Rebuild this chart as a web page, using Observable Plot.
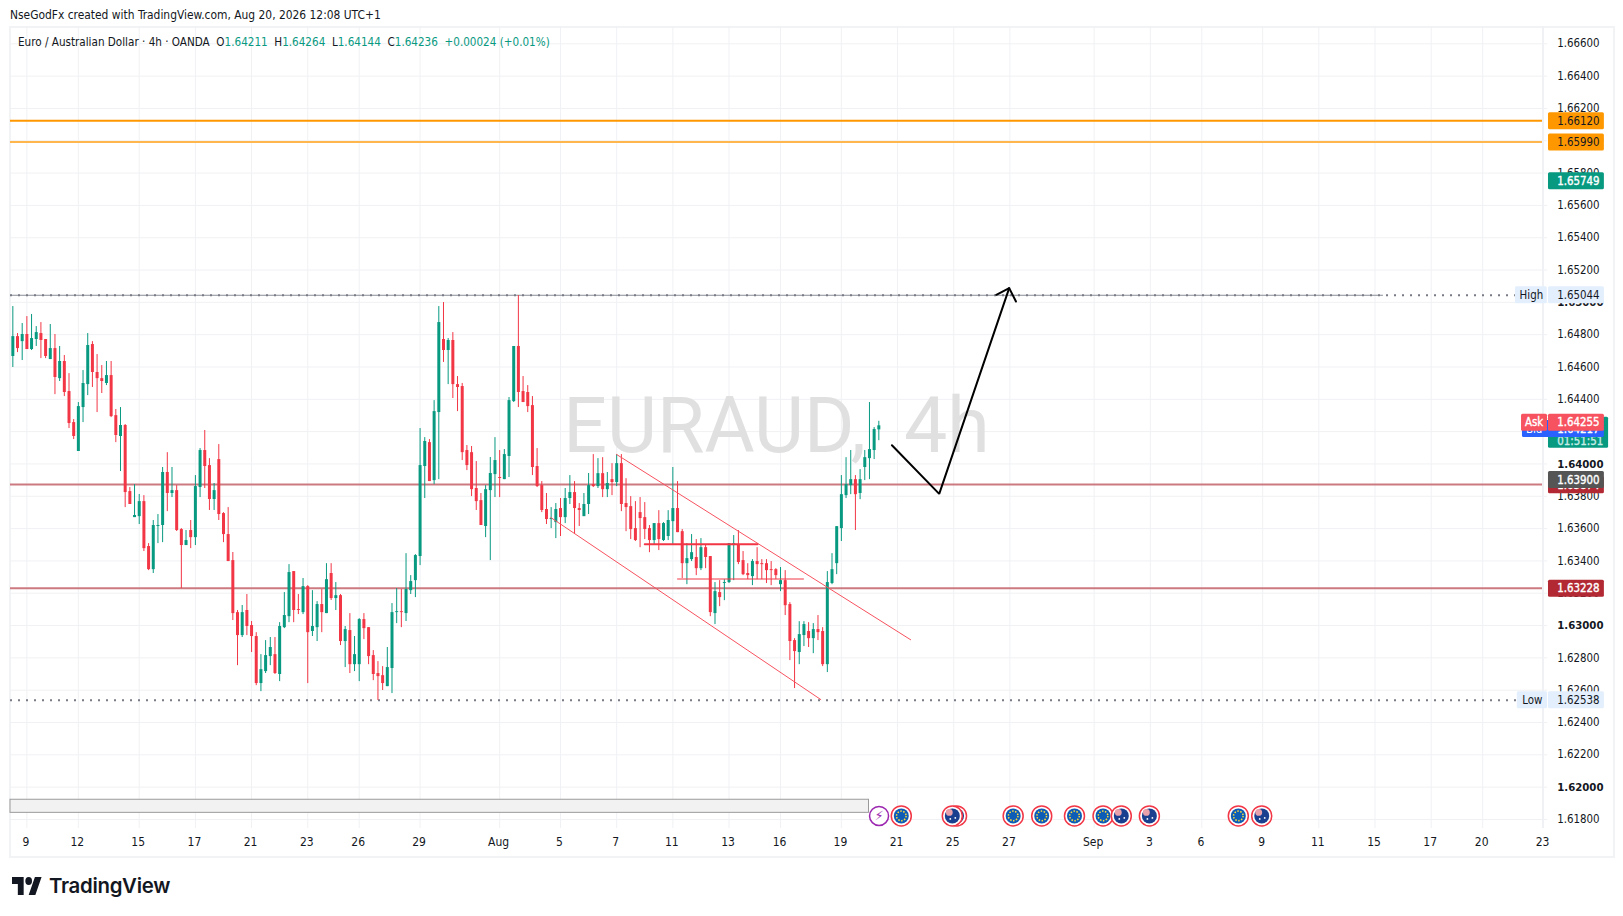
<!DOCTYPE html>
<html><head><meta charset="utf-8">
<script src="https://cdn.jsdelivr.net/npm/d3@7"></script>
<script src="https://cdn.jsdelivr.net/npm/@observablehq/plot@0.6"></script>
<style>
html,body{margin:0;padding:0;background:#fff;width:1623px;height:916px;overflow:hidden}
#wrap{position:relative;width:1623px;height:916px}
#border{position:absolute;left:9px;top:26px;width:1602px;height:828px;border:2px solid #f2f3f5}
#chart{position:absolute;left:0;top:0}
.t{position:absolute;white-space:nowrap;font-family:"DejaVu Sans Condensed","DejaVu Sans";color:#131722}
.g{color:#089981}
</style></head><body>
<div id="wrap">
<div id="border"></div>
<div id="chart"></div>
<div class="t" style="left:10px;top:8px;font-size:11.9px">NseGodFx created with TradingView.com, Aug 20, 2026 12:08 UTC+1</div>
<div class="t" style="left:18px;top:35px;font-size:11.6px">Euro / Australian Dollar · 4h · OANDA&nbsp; O<span class="g">1.64211</span>&nbsp; H<span class="g">1.64264</span>&nbsp; L<span class="g">1.64144</span>&nbsp; C<span class="g">1.64236</span>&nbsp; <span class="g">+0.00024 (+0.01%)</span></div>
<svg style="position:absolute;left:12px;top:877px" width="30" height="18" viewBox="0 4 36 18" preserveAspectRatio="none"><path fill="#131722" d="M14 22H7V11H0V4h14v18zM28 22h-8l7.5-18h8L28 22z"/><circle fill="#131722" cx="20" cy="8" r="4"/></svg>
<div class="t" style="left:49px;top:873px;font-family:Inter;font-weight:600;font-size:20.4px;letter-spacing:-.3px">TradingView</div>
</div>
<script>
// Candle values, in 1e-5 price units
const opens=[164665,164788,164757,164801,164708,164770,164807,164770,164646,164714,
164528,164634,164448,164256,164077,164349,164491,164739,164566,164528,
164498,164547,164299,164170,164238,163829,163668,163674,163767,163489,
163346,163613,163619,163947,163817,163835,163594,163495,163588,163544,
163854,164083,163990,163780,164027,163693,163563,163402,163080,162938,
163093,163000,162932,162641,162715,162808,162820,162697,162987,163055,
163334,163099,163080,163241,162963,162987,163130,163074,163322,163167,
163185,162901,162969,162758,162758,163037,162987,162814,162703,162690,
162622,162734,163080,163086,163074,163216,163278,163427,163984,164132,
163897,164318,164770,164702,164764,164491,164479,164083,164070,163848,
163773,163613,163835,163934,163916,163903,164046,164386,164727,164448,
164442,164361,163984,163866,163718,163656,163637,163724,163668,163786,
163823,163724,163674,163749,163872,163860,163940,163841,163903,163885,
164002,163755,163736,163600,163699,163668,163600,163526,163631,163526,
163551,163643,163724,163581,163383,163408,163421,163352,163482,163427,
163074,163204,163260,163266,163495,163501,163402,163322,163303,163396,
163383,163383,163346,163346,163253,163278,163130,162907,162833,162938,
162963,162919,162975,162963,162758,163260,163383,163600,163804,163866,
163903,163817,163978,164033,164083,164211];
const highs=[164974,164807,164869,164912,164925,164850,164875,164770,164863,164801,
164727,164671,164559,164275,164380,164578,164807,164757,164677,164609,
164634,164634,164337,164349,164244,163854,163872,163811,163804,163507,
163650,163687,163978,164070,163978,163866,163600,163588,163650,163928,
164095,164207,164033,163879,164120,163699,163730,163452,163093,163124,
163192,163025,162956,162820,162907,162926,162926,163018,163204,163377,
163334,163192,163291,163247,163216,163148,163223,163383,163383,163266,
163192,162994,163074,162932,163043,163074,162987,162845,162777,162746,
162864,163136,163229,163223,163445,163309,163439,164219,164163,164151,
164392,164974,164999,164776,164813,164541,164498,164114,164108,164015,
163817,163866,164040,164163,164083,164089,164411,164727,165042,164541,
164485,164417,164095,163891,163817,163730,163755,163786,163848,163928,
163891,163755,163817,163941,164058,164033,164039,163947,164002,164058,
164058,163909,163798,163767,163792,163761,163619,163631,163711,163637,
163711,163978,163891,163594,163507,163563,163532,163538,163501,163427,
163266,163278,163284,163507,163557,163588,163458,163383,163408,163482,
163408,163408,163396,163352,163359,163340,163142,162919,163024,163024,
163018,163012,163062,162987,163334,163445,163612,163928,164039,164083,
163928,163965,164083,164380,164225,164264];
const lows=[164597,164689,164640,164708,164702,164727,164652,164652,164646,164429,
164510,164417,164219,164151,164077,164256,164423,164473,164318,164436,
164485,164287,164132,163953,163730,163749,163668,163625,163458,163340,
163322,163507,163513,163705,163792,163582,163229,163495,163476,163495,
163792,163848,163712,163712,163650,163513,163396,163031,162752,162926,
162938,162833,162628,162591,162703,162752,162697,162653,162981,163018,
163018,163068,163068,162641,162932,162901,162956,163074,163155,163093,
162876,162740,162703,162715,162653,162913,162758,162659,162536,162598,
162622,162579,163012,162987,163025,163192,163173,163371,163786,163891,
163872,163903,164628,164491,164405,164324,164021,163959,163798,163712,
163619,163544,163402,163792,163792,163903,163916,164380,164349,164380,
164318,163928,163854,163699,163625,163600,163538,163551,163631,163749,
163563,163613,163674,163687,163854,163848,163792,163792,163804,163860,
163705,163581,163532,163520,163482,163532,163451,163501,163464,163520,
163526,163495,163575,163291,163253,163396,163309,163340,163352,163055,
163006,163117,163154,163260,163278,163377,163309,163284,163247,163284,
163284,163260,163247,163284,163210,163062,162783,162610,162758,162870,
162864,162826,162907,162746,162709,163253,163315,163520,163786,163810,
163588,163779,163897,163903,164027,164144];
const closes=[164788,164714,164801,164708,164776,164813,164764,164665,164714,164535,
164634,164442,164250,164170,164355,164498,164733,164566,164528,164510,
164547,164293,164176,164238,163823,163749,163681,163767,163476,163346,
163619,163619,163947,163817,163835,163588,163495,163526,163544,163860,
164083,163984,163780,163835,163687,163563,163396,163074,162938,163080,
162994,162932,162641,162727,162814,162864,162703,162994,163062,163328,
163093,163093,163241,162956,162994,163130,163080,163284,163167,163185,
162901,162975,162758,162820,163037,162981,162808,162697,162684,162641,
162740,163080,163086,163080,163223,163272,163433,163990,164139,163891,
164324,164875,164702,164764,164491,164473,164070,163990,163841,163767,
163619,163841,163941,164021,163910,164058,164392,164727,164442,164380,
164355,163978,163860,163712,163656,163662,163718,163668,163786,163823,
163724,163712,163749,163866,163860,163940,163841,163879,163885,164002,
163749,163730,163594,163526,163662,163594,163526,163631,163532,163631,
163650,163724,163575,163383,163414,163451,163352,163482,163421,163080,
163210,163173,163266,163507,163507,163390,163315,163309,163396,163377,
163377,163340,163340,163309,163278,163123,162901,162839,162944,163006,
162919,162975,162956,162758,163266,163346,163612,163810,163872,163903,
163810,163903,164039,164089,164213,164236];

const timeTickBars=[3,14,27,39,51,63,74,87,104,117,129,141,153,164,177,189,201,213,231,243,254,267,279,291,303,314,327];
const timeTickLabels=["9","12","15","17","21","23","26","29","Aug","5","7","11","13","16","19","21","25","27","Sep","3","6","9","11","15","17","20","23"];
const priceTicks=[1.618,1.62,1.622,1.624,1.626,1.628,1.63,1.632,1.634,1.636,1.638,1.64,1.642,1.644,1.646,1.648,1.65,1.652,1.654,1.656,1.658,1.66,1.662,1.664,1.666];
const levelOrangeA=1.6612, levelOrangeB=1.6599, levelRedA=1.6387, levelRedB=1.63228, levelHigh=1.65044, levelLow=1.62538;
const channelUpper=[[128.96,1.64059],[191.8,1.62912]];
const channelLower=[[114.9,1.63669],[172.6,1.62542]];
const boxThick=[[135,1.63503],[159.1,1.63503]];
const boxThin=[[142,1.63288],[168.9,1.63288]];
const arrowPath=[[187.8,1.64116],[197.9,1.63815],[212.85,1.65088]];
const arrowHead=[[210.1,1.65047],[212.85,1.65088],[214.3,1.65005]];
const eventBars={eu:[189.8,213.7,219.8,226.8,232.9,261.8],au:[201.6,200.7,236.8,242.8,266.8],spark:[185.05]};
const eventLane=1.61822;
const priceTags=[
 {p:1.6612,t:"1.66120",bg:"#ff9800",fg:"#131722"},
 {p:1.6599,t:"1.65990",bg:"#ff9800",fg:"#131722"},
 {p:1.65749,t:"1.65749",bg:"#089981",fg:"#ffffff",b:1},
 {p:1.65044,t:"1.65044",bg:"#e3effd",fg:"#131722"},
 {p:1.63868,t:"1.63874",bg:"#b22833",fg:"#ffffff",b:1},
 {p:1.639,t:"1.63900",bg:"#555555",fg:"#ffffff",b:1},
 {p:1.63228,t:"1.63228",bg:"#b22833",fg:"#ffffff",b:1},
 {p:1.62538,t:"1.62538",bg:"#e3effd",fg:"#131722"}];

const candles=opens.map((o,i)=>({i,o:o/1e5,h:highs[i]/1e5,l:lows[i]/1e5,c:closes[i]/1e5,col:closes[i]>=o?"#089981":"#f23645"}));
const font="DejaVu Sans Condensed";
const fmt=d=>d.toFixed(5);
const pts=a=>a.map(([x,y])=>({x,y}));
const GRID="#f0f1f4";
const paneEnd=326.78, tagL=328.06, tagR=340, hh=0.000526;
const line=(a,o)=>Plot.line(pts(a),{x:"x",y:"y",...o});
const priceText=(v,label,fg,extra={})=>Plot.text([v],{y:d=>d,text:()=>label,frameAnchor:"right",dx:14.7,textAnchor:"start",fill:fg,fontSize:11.4,...extra});
const lightStroke=fg=>({stroke:fg,strokeWidth:0.35});
const tags=priceTags.flatMap(d=>[
  Plot.rect([d],{x1:tagL,x2:tagR,y1:d.p-hh,y2:d.p+hh,fill:d.bg,rx:1.5}),
  priceText(d.p,d.t,d.fg,d.b?lightStroke(d.fg):{})
]);
const isRound=d=>Math.abs(d*100-Math.round(d*100))<1e-6;

const chart=Plot.plot({
 width:1623,height:916,marginLeft:10,marginRight:81,marginTop:26,marginBottom:88,
 style:{fontFamily:font,background:"transparent",overflow:"visible"},
 x:{domain:[-0.498,paneEnd],axis:null},
 y:{domain:[1.617441,1.667071],axis:null},
 marks:[
  Plot.ruleY(priceTicks,{x1:-0.498,x2:327.9,stroke:GRID,strokeWidth:1}),
  Plot.ruleX(timeTickBars,{stroke:GRID,strokeWidth:1}),
  Plot.ruleX([paneEnd],{stroke:GRID,strokeWidth:1}),
  Plot.text(["EURAUD,\u00a0 4h"],{frameAnchor:"middle",fontFamily:"Roboto",fontSize:77,fill:"#e0e0e0",style:"letter-spacing:1.5px"}),
  // levels
  Plot.ruleY([levelOrangeA],{stroke:"#ff9800",strokeWidth:2,dy:-0.5}),
  Plot.ruleY([levelOrangeB],{stroke:"#ffb74d",strokeWidth:2,dy:-0.5}),
  Plot.ruleY([levelRedA],{stroke:"#cc7a80",strokeWidth:2,dy:-0.5}),
  Plot.ruleY([levelRedB],{stroke:"#cc7a80",strokeWidth:2,dy:-0.5}),
  Plot.ruleY([levelHigh],{x1:-0.498,x2:292.8,stroke:"#8a8d96",strokeWidth:1}),
  Plot.ruleY([levelHigh],{x1:-0.498,x2:321,stroke:"#787b86",strokeWidth:2,strokeDasharray:"2,6"}),
  Plot.ruleY([levelLow],{x1:-0.498,x2:321.4,stroke:"#787b86",strokeWidth:2,strokeDasharray:"2,6"}),
  // candles
  Plot.ruleX(candles,{x:"i",y1:"l",y2:"h",stroke:"col",strokeWidth:1}),
  Plot.ruleX(candles,{x:"i",y1:"o",y2:"c",stroke:"col",strokeWidth:3}),
  // drawings
  line(channelUpper,{stroke:"#f7525f",strokeWidth:1}),
  line(channelLower,{stroke:"#f7525f",strokeWidth:1}),
  line(boxThick,{stroke:"#f23645",strokeWidth:2}),
  line(boxThin,{stroke:"#f23645",strokeWidth:1}),
  line(arrowPath,{stroke:"#000",strokeWidth:2,strokeLinejoin:"miter"}),
  line(arrowHead,{stroke:"#000",strokeWidth:2,strokeLinejoin:"miter"}),
  // scrollbar-like band
  Plot.rect([0],{x1:-0.498,x2:182.9,y1:1.61841,y2:1.61922,fill:"#f2f2f2",stroke:"#9a9a9a",strokeWidth:1}),
  // events
  Plot.dot(eventBars.eu,{x:d=>d,y:eventLane,r:10,fill:"#fff",stroke:"#f23645",strokeWidth:1.5}),
  Plot.dot(eventBars.eu,{x:d=>d,y:eventLane,r:7.5,fill:"#0d5cb5"}),
  Plot.dot(eventBars.eu,{x:d=>d,y:eventLane,r:4.8,fill:"none",stroke:"#ffd93b",strokeWidth:1.5,strokeDasharray:"1.5,1.5"}),
  ...eventBars.au.flatMap(v=>[
   Plot.dot([v],{x:d=>d,y:eventLane,r:10,fill:"#fff",stroke:"#f23645",strokeWidth:1.5}),
   Plot.dot([v],{x:d=>d,y:eventLane,r:7.5,fill:"#1a3f8f"}),
   Plot.dot([v],{x:d=>d,y:eventLane,r:3.4,dx:-3,dy:-3.5,fill:"#e8a0ab"}),
   Plot.dot([v],{x:d=>d,y:eventLane,r:0.9,dx:3,dy:2,fill:"#fff"}),
   Plot.dot([v],{x:d=>d,y:eventLane,r:0.9,dx:-2,dy:3,fill:"#fff"})
  ]),
  Plot.dot(eventBars.spark,{x:d=>d,y:eventLane,r:9.5,fill:"#fff",stroke:"#9c27b0",strokeWidth:1.5}),
  Plot.text(eventBars.spark,{x:d=>d,y:eventLane,text:()=>"⚡",fill:"#9c27b0",fontSize:13,fontFamily:"DejaVu Sans"}),
  // time labels
  Plot.text(timeTickBars,{x:d=>d,text:(d,i)=>timeTickLabels[i],frameAnchor:"bottom",dy:13.7,dx:-1,lineAnchor:"middle",fill:"#131722",fontSize:12,
    fontWeight:(d,i)=>/[A-Z]/.test(timeTickLabels[i])?600:400}),
  // price labels
  Plot.text(priceTicks.filter(d=>!isRound(d)),{y:d=>d,text:fmt,frameAnchor:"right",dx:14.7,textAnchor:"start",fill:"#131722",fontSize:11.4}),
  Plot.text(priceTicks.filter(isRound),{y:d=>d,text:fmt,frameAnchor:"right",dx:14.7,textAnchor:"start",fill:"#131722",fontSize:11.3,fontWeight:600}),
  // price tags
  ...tags,
  Plot.rect([0],{x1:321,x2:327.8,y1:levelHigh-hh,y2:levelHigh+hh,fill:"#e3effd",rx:1.5}),
  Plot.text(["High"],{x:324.4,y:levelHigh,fill:"#131722",fontSize:11.4}),
  Plot.rect([0],{x1:321.4,x2:327.85,y1:levelLow-hh,y2:levelLow+hh,fill:"#e3effd",rx:1.5}),
  Plot.text(["Low"],{x:324.6,y:levelLow,fill:"#131722",fontSize:11.4}),
  Plot.rect([0],{x1:tagL,x2:340.9,y1:1.64097,y2:1.64289,fill:"#089981",rx:1.5}),
  priceText(1.64141,"01:51:51","#c8ece6",lightStroke("#c8ece6")),
  Plot.rect([0],{x1:322.5,x2:tagR,y1:1.64217-hh,y2:1.64217+hh,fill:"#2962ff",rx:1.5}),
  priceText(1.64217,"1.64217","#ffffff",lightStroke("#ffffff")),
  Plot.text(["Bid"],{x:325,y:1.64217,fill:"#fff",fontSize:11.4}),
  Plot.rect([0],{x1:322.3,x2:327.85,y1:1.64255-hh,y2:1.64255+hh,fill:"#f7525f",rx:1.5}),
  Plot.text(["Ask"],{x:325,y:1.64255,fill:"#fff",fontSize:11.4,stroke:"#fff",strokeWidth:0.35}),
  Plot.rect([0],{x1:tagL,x2:tagR,y1:1.64255-hh,y2:1.64255+hh,fill:"#f7525f",rx:1.5}),
  priceText(1.64255,"1.64255","#ffffff",lightStroke("#ffffff"))
 ]
});
document.getElementById("chart").appendChild(chart);
</script>
</body></html>
